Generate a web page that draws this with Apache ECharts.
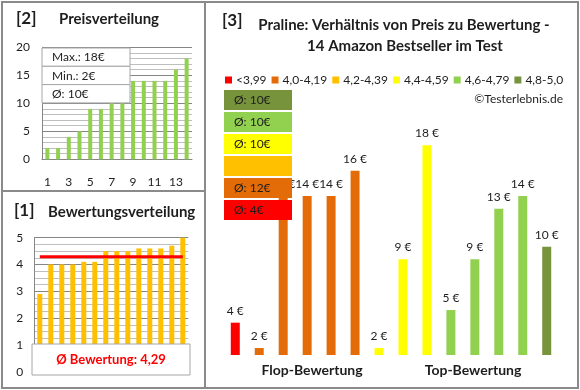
<!DOCTYPE html>
<html><head><meta charset="utf-8">
<script src="https://cdn.jsdelivr.net/npm/echarts@6/dist/echarts.min.js"></script>
<style>html,body{margin:0;padding:0;background:#fff}#c{width:580px;height:390px}</style>
</head><body><div id="c"></div>
<script>
// ---- data ----
const rankCats = ['1','2','3','4','5','6','7','8','9','10','11','12','13','14'];
const sortedPrices = [2,2,4,5,9,9,10,10,14,14,14,14,16,18];
const sortedRatings = [2.9,4.0,4.0,4.0,4.1,4.1,4.5,4.5,4.5,4.6,4.6,4.6,4.7,5.0];
const avgRating = 4.29;
const avgRatingText = 'Ø Bewertung: 4,29';
const priceStats = ['Max.: 18€','Min.: 2€','Ø: 10€'];
const productPrices = [4,2,14,14,14,16,2,9,18,5,9,13,14,10];
const productGroup = [0,1,1,1,1,1,3,3,3,4,4,4,4,5];
const groupNames = ['<3,99','4,0-4,19','4,2-4,39','4,4-4,59','4,6-4,79','4,8-5,0'];
const groupAvg = ['Ø: 4€','Ø: 12€','','Ø: 10€','Ø: 10€','Ø: 10€'];
const groupColors = ['#FF0000','#E36C09','#FFC000','#FFFF00','#92D050','#77933C'];

const FONT = 'Lato, "Noto Sans", sans-serif';
const TXT = '#1e1e1e';
const chart = echarts.init(document.getElementById('c'), null, {renderer:'canvas'});

function txt(text, x, y, size, weight, align, color){
  return {type:'text', z:100, style:{text:text, x:x, y:y, font:(weight||'normal')+' '+size+'px '+FONT,
    fill:color||TXT, textAlign:align||'left', align:align||'left', textVerticalAlign:'middle', verticalAlign:'middle'}};
}
const graphics = [];
// frame
graphics.push({type:'rect', z:100, shape:{x:2,y:2,width:576,height:386}, style:{fill:'none',stroke:'#8a8a8a',lineWidth:2}});
graphics.push({type:'line', z:100, shape:{x1:205,y1:2,x2:205,y2:388}, style:{stroke:'#8a8a8a',lineWidth:2}});
graphics.push({type:'line', z:100, shape:{x1:2,y1:191,x2:205,y2:191}, style:{stroke:'#8a8a8a',lineWidth:2}});
// titles
graphics.push(txt('[2]', 16, 19, 17, 'bold'));
graphics.push(txt('Preisverteilung', 59, 19, 15, 'bold'));
graphics.push(txt('[1]', 14, 211, 17, 'bold'));
graphics.push(txt('Bewertungsverteilung', 48, 212, 15, 'bold'));
graphics.push(txt('[3]', 222, 21, 17, 'bold'));
graphics.push(txt('Praline: Verhältnis von Preis zu Bewertung -', 404, 25, 15, 'bold', 'center'));
graphics.push(txt('14 Amazon Bestseller im Test', 405, 46, 15, 'bold', 'center'));
graphics.push(txt('©Testerlebnis.de', 563, 99, 12, 'normal', 'right'));
graphics.push(txt('Flop-Bewertung', 312, 370, 14, 'bold', 'center'));
graphics.push(txt('Top-Bewertung', 473, 370, 14, 'bold', 'center'));
// price stats box
priceStats.forEach((s,i)=>{
  graphics.push({type:'rect', z:90, shape:{x:42,y:48+i*18.3,width:88,height:18.3}, style:{fill:'#fff',stroke:'#a6a6a6',lineWidth:1}});
  graphics.push(txt(s, 52, 57.5+i*18.3, 12, 'normal'));
});
// rating avg box
graphics.push({type:'rect', z:90, shape:{x:32,y:344,width:158,height:31}, style:{fill:'#fff',stroke:'#a6a6a6',lineWidth:1}});
graphics.push(txt(avgRatingText, 111, 359.5, 13, 'bold', 'center', '#FF0000'));
// group average boxes (top = best group)
for(let k=0;k<6;k++){
  const g = 5-k;
  graphics.push({type:'rect', z:90, shape:{x:224,y:90+k*22,width:68,height:20}, style:{fill:groupColors[g]}});
  if(groupAvg[g]) graphics.push(txt(groupAvg[g], 234, 100+k*22, 12, 'normal'));
}

const axisLab = {color:TXT, fontFamily:FONT, fontSize:12};
const option = {
  animation:false,
  textStyle:{fontFamily:FONT},
  grid:[
    {left:42, top:47.3, width:150, height:112},
    {left:34.3, top:237.7, width:154, height:134},
    {left:223.3, top:120, width:335.4, height:235}
  ],
  legend:{
    data:groupNames, left:225, top:74, width:350, padding:0, itemWidth:7, itemHeight:7, itemGap:5, icon:'rect', selectedMode:false,
    textStyle:{color:TXT, fontSize:12, fontFamily:FONT, padding:[0,0,0,-1]}
  },
  xAxis:[
    {gridIndex:0, type:'category', data:rankCats, axisTick:{show:false},
      axisLine:{lineStyle:{color:'#868686'}}, axisLabel:Object.assign({interval:1, margin:17}, axisLab)},
    {gridIndex:1, type:'category', data:rankCats, axisTick:{show:false}, axisLabel:{show:false},
      axisLine:{lineStyle:{color:'#868686'}}},
    {gridIndex:2, type:'category', data:rankCats, show:false}
  ],
  yAxis:[
    {gridIndex:0, type:'value', min:0, max:20, interval:5,
      axisLine:{show:true, lineStyle:{color:'#868686'}}, axisTick:{show:false},
      axisLabel:Object.assign({margin:12}, axisLab),
      splitLine:{lineStyle:{color:'#868686'}},
      minorTick:{show:false, splitNumber:5}, minorSplitLine:{show:true, lineStyle:{color:'#bfbfbf'}}},
    {gridIndex:1, type:'value', min:0, max:5, interval:1,
      axisLine:{show:true, lineStyle:{color:'#868686'}}, axisTick:{show:false},
      axisLabel:Object.assign({margin:11}, axisLab),
      splitLine:{lineStyle:{color:'#868686'}},
      minorTick:{show:false, splitNumber:4}, minorSplitLine:{show:true, lineStyle:{color:'#bfbfbf'}}},
    {gridIndex:2, type:'value', min:1.45, max:20, show:false, splitLine:{show:false}}
  ],
  series:[
    {type:'bar', xAxisIndex:0, yAxisIndex:0, data:sortedPrices, barWidth:4, itemStyle:{color:'#92D050'}},
    {type:'bar', xAxisIndex:1, yAxisIndex:1, data:sortedRatings, barWidth:5, itemStyle:{color:'#FFC000'}},
    {type:'line', xAxisIndex:1, yAxisIndex:1, data:sortedRatings.map(()=>avgRating), symbol:'none',
      lineStyle:{color:'#FF0000', width:3}, z:5},
    {type:'bar', xAxisIndex:2, yAxisIndex:2, barWidth:9,
      data:productPrices.map((v,i)=>({value:v, itemStyle:{color:groupColors[productGroup[i]]}})),
      label:{show:true, position:'top', distance:6, formatter:p=>p.value+' €', color:TXT, fontSize:12, fontFamily:FONT}},
  ].concat(groupNames.map((n,i)=>({type:'line', name:n, xAxisIndex:2, yAxisIndex:2, data:[],
      itemStyle:{color:groupColors[i]}, lineStyle:{color:groupColors[i]}}))),
  graphic:graphics
};
chart.setOption(option);
</script></body></html>
